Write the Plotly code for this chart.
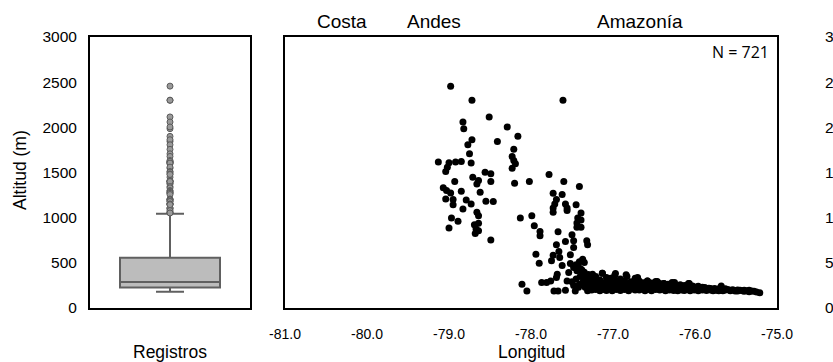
import plotly.graph_objects as go

# Records in the Andes and the Andes-Amazon transition: longitude (deg) and altitude (m)
andes_lon = [
    -78.98, -78.72, -77.61, -78.51, -78.83, -78.82, -78.29, -78.16, -78.41, -78.72,
    -78.77, -78.21, -78.75, -78.23, -78.21, -78.19, -78.23, -79.13, -79.00, -78.92,
    -78.85, -78.73, -79.02, -79.04, -78.56, -78.49, -78.71, -78.64, -78.93, -78.66,
    -78.49, -78.20, -78.02, -77.78, -77.60, -77.41, -79.07, -79.03, -78.98, -78.85,
    -78.62, -77.73, -77.62, -77.69, -77.71, -77.73, -77.73, -79.04, -78.95, -78.95,
    -78.79, -78.73, -78.55, -78.46, -78.83, -78.66, -78.64, -78.97, -78.89, -79.00,
    -78.69, -78.64, -78.67, -78.68, -78.64, -78.49, -77.58, -77.56, -77.45, -77.56,
    -77.39, -77.43, -77.39, -77.44, -77.39, -77.44, -78.13, -77.99, -77.96, -77.89,
    -77.89, -77.67, -77.50, -77.58, -77.69, -77.48, -77.32, -77.31, -77.48, -77.66,
    -77.94, -77.73, -77.52, -77.65, -77.75, -77.90, -77.62, -77.37, -77.52, -77.41,
    -77.35, -77.48, -77.44, -77.54, -77.39, -77.68, -77.37, -78.11, -78.05, -77.87,
    -77.81, -77.76, -77.69, -77.56, -77.72, -77.67, -77.58, -77.46, -77.41, -77.33,
    -77.25, -77.27, -77.19, -77.13, -77.08, -77.05, -76.97, -76.95, -76.84, -76.82,
    -76.70, -76.58, -76.46, -76.38, -76.25, -76.07,
    -77.45, -77.42, -77.38, -77.35, -77.40, -77.33, -77.30, -77.28, -77.45, -77.50,
    -77.48, -77.42, -77.38, -77.36,
]
andes_alt = [
    2456, 2300, 2300, 2115, 2059, 1985, 2004, 1900, 1844, 1863,
    1807, 1756, 1707, 1678, 1633, 1596, 1548, 1615, 1607, 1615,
    1622, 1604, 1559, 1511, 1504, 1485, 1448, 1411, 1400, 1374,
    1400, 1381, 1400, 1478, 1400, 1344, 1330, 1300, 1274, 1293,
    1281, 1270, 1256, 1200, 1152, 1107, 1059, 1207, 1200, 1144,
    1196, 1152, 1181, 1178, 1096, 1059, 1022, 996, 959, 885,
    922, 937, 874, 826, 856, 752, 1152, 1107, 1144, 1078,
    1052, 996, 974, 941, 893, 893, 996, 1022, 911, 848,
    800, 844, 811, 737, 700, 744, 744, 700, 670, 626,
    596, 585, 589, 559, 522, 496, 470, 541, 493, 511,
    504, 448, 411, 393, 430, 374, 374, 263, 189, 281,
    281, 300, 337, 300, 189, 189, 196, 189, 263, 281,
    374, 263, 244, 385, 337, 263, 381, 270, 367, 244,
    337, 300, 293, 270, 281, 270,
    480, 455, 420, 395, 350, 330, 370, 345, 320, 290,
    250, 230, 270, 300,
]

# Lowland Amazon records
amazon_lon = [
    -77.34, -77.34, -77.31, -77.31, -77.31, -77.28, -77.28, -77.26, -77.26, -77.26,
    -77.23, -77.23, -77.21, -77.21, -77.21, -77.18, -77.18, -77.16, -77.16, -77.13,
    -77.13, -77.13, -77.11, -77.11, -77.08, -77.08, -77.08, -77.06, -77.06, -77.03,
    -77.03, -77.03, -77.01, -77.01, -76.98, -76.98, -76.98, -76.96, -76.96, -76.93,
    -76.93, -76.91, -76.91, -76.91, -76.88, -76.88, -76.86, -76.86, -76.86, -76.83,
    -76.83, -76.83, -76.81, -76.81, -76.78, -76.78, -76.78, -76.76, -76.76, -76.73,
    -76.73, -76.73, -76.71, -76.71, -76.68, -76.68, -76.68, -76.66, -76.66, -76.63,
    -76.63, -76.61, -76.61, -76.61, -76.58, -76.58, -76.58, -76.56, -76.56, -76.53,
    -76.53, -76.53, -76.51, -76.51, -76.48, -76.48, -76.48, -76.46, -76.46, -76.43,
    -76.43, -76.43, -76.41, -76.41, -76.38, -76.38, -76.38, -76.36, -76.36, -76.33,
    -76.33, -76.33, -76.31, -76.31, -76.28, -76.28, -76.28, -76.26, -76.26, -76.23,
    -76.23, -76.23, -76.21, -76.21, -76.18, -76.18, -76.18, -76.16, -76.16, -76.13,
    -76.13, -76.13, -76.11, -76.11, -76.08, -76.08, -76.08, -76.06, -76.06, -76.03,
    -76.03, -76.03, -76.01, -76.01, -75.98, -75.98, -75.96, -75.96, -75.96, -75.93,
    -75.93, -75.91, -75.91, -75.88, -75.88, -75.86, -75.86, -75.83, -75.83, -75.81,
    -75.81, -75.78, -75.78, -75.76, -75.76, -75.73, -75.73, -75.71, -75.71, -75.68,
    -75.68, -75.66, -75.66, -75.63, -75.63, -75.60, -75.57, -75.57, -75.54, -75.51,
    -75.51, -75.48, -75.48, -75.45, -75.42, -75.40, -75.40, -75.37, -75.34, -75.34,
    -75.31, -75.28, -75.25, -75.21,
]
amazon_alt = [
    230, 300, 190, 262, 345, 215, 280, 240, 318, 200,
    262, 225, 205, 290, 350, 235, 270, 190, 310, 250,
    222, 385, 275, 205, 240, 300, 195, 262, 228, 210,
    285, 330, 245, 190, 270, 225, 360, 205, 298, 250,
    232, 275, 195, 320, 222, 260, 245, 205, 300, 270,
    215, 350, 232, 190, 258, 210, 290, 225, 245, 200,
    275, 330, 240, 215, 262, 198, 300, 228, 250, 210,
    280, 245, 192, 230, 265, 218, 300, 235, 205, 252,
    190, 278, 222, 240, 205, 262, 293, 230, 215, 248,
    198, 270, 220, 236, 205, 255, 270, 228, 190, 245,
    212, 262, 200, 230, 238, 215, 281, 195, 250, 225,
    208, 242, 240, 190, 215, 232, 258, 200, 222, 235,
    195, 250, 215, 228, 205, 245, 270, 222, 190, 238,
    210, 244, 198, 225, 215, 232, 205, 190, 240, 222,
    212, 200, 230, 215, 226, 195, 210, 220, 205, 198,
    215, 208, 190, 215, 200, 205, 196, 212, 192, 200,
    244, 207, 190, 198, 212, 205, 196, 190, 202, 195,
    188, 189, 200, 196, 192, 196, 185, 190, 196, 180,
    188, 185, 178, 170,
]

lon = andes_lon + amazon_lon
alt = andes_alt + amazon_alt

# Summary of the altitude distribution for the box plot
box_q1 = 226
box_median = 289
box_q3 = 555
box_lowerfence = 181
box_upperfence = 1044
outliers = [a for a in alt if a > box_upperfence]

y_ticks = [0, 500, 1000, 1500, 2000, 2500, 3000]
x_ticks = [-81, -80, -79, -78, -77, -76, -75]
x_ticktext = [f"{v:.1f}" for v in x_ticks]

W, H = 833, 362
FONT = "Liberation Sans, Arial, Helvetica, sans-serif"


def px_x(p):
    return p / W


def px_y(p):
    return (H - p) / H


fig = go.Figure()

fig.add_trace(go.Box(
    x=[0], q1=[box_q1], median=[box_median], q3=[box_q3],
    lowerfence=[box_lowerfence], upperfence=[box_upperfence],
    width=1.0, whiskerwidth=0.28,
    fillcolor="#bcbcbc", line=dict(color="#606060", width=2),
    boxpoints=False, showlegend=False, hoverinfo="skip",
    xaxis="x", yaxis="y",
))
fig.add_trace(go.Scatter(
    x=[0] * len(outliers), y=outliers, mode="markers",
    marker=dict(size=6, color="#9a9a9a", line=dict(color="#5a5a5a", width=1)),
    showlegend=False, xaxis="x", yaxis="y",
))
fig.add_trace(go.Scatter(
    x=lon, y=alt, mode="markers",
    marker=dict(size=7, color="black", line=dict(width=0)),
    showlegend=False, xaxis="x2", yaxis="y2",
))
# Empty trace so the right-hand altitude axis is drawn
fig.add_trace(go.Scatter(
    x=[], y=[], mode="markers", showlegend=False, xaxis="x2", yaxis="y3",
))

frame = dict(showline=True, mirror=True, linecolor="black", linewidth=2,
             showgrid=False, zeroline=False, ticks="", automargin=False)
dom_y = [px_y(308), px_y(37)]
tick_y_font = dict(size=15.5, family=FONT, color="black")
tick_x_font = dict(size=14, family=FONT, color="black")

fig.update_layout(
    width=W, height=H,
    margin=dict(l=0, r=0, t=0, b=0, autoexpand=False),
    paper_bgcolor="white", plot_bgcolor="white",
    font=dict(family=FONT, size=14, color="black"),
    xaxis=dict(domain=[px_x(90), px_x(250)], range=[-0.8, 0.8],
               showticklabels=False, fixedrange=True, **frame),
    yaxis=dict(domain=dom_y, range=[0, 3000], tickvals=y_ticks,
               tickfont=tick_y_font, ticklabelstandoff=8, anchor="x", **frame),
    xaxis2=dict(domain=[px_x(285), px_x(777)], range=[-81, -75],
                tickvals=x_ticks, ticktext=x_ticktext, ticklabelstandoff=12,
                tickfont=tick_x_font, anchor="y2", **frame),
    yaxis2=dict(domain=dom_y, range=[0, 3000], showticklabels=False,
                anchor="x2", **frame),
    yaxis3=dict(overlaying="y2", side="right", anchor="free", position=px_x(824),
                range=[0, 3000], tickvals=y_ticks, tickfont=tick_y_font,
                showline=False, showgrid=False, zeroline=False, ticks="",
                automargin=False),
)

labels = [
    ("Costa", 342, 22, 19, 0),
    ("Andes", 434, 22, 19, 0),
    ("Amazonía", 640, 22, 19, 0),
    ("Registros", 170, 352, 17.5, 0),
    ("Longitud", 531, 352, 17.5, 0),
    ("Altitud (m)", 20, 170, 17.5, -90),
]
for text, x, y, size, angle in labels:
    fig.add_annotation(text=text, x=px_x(x), y=px_y(y), xref="paper", yref="paper",
                       xanchor="center", yanchor="middle", showarrow=False,
                       textangle=angle, font=dict(size=size, family=FONT))

fig.add_annotation(text="N = 721", x=px_x(771), y=px_y(52), xref="paper", yref="paper",
                   xanchor="right", yanchor="middle", showarrow=False,
                   font=dict(size=16, family="Open Sans, Noto Sans, sans-serif"))

fig.write_html("out.html")
